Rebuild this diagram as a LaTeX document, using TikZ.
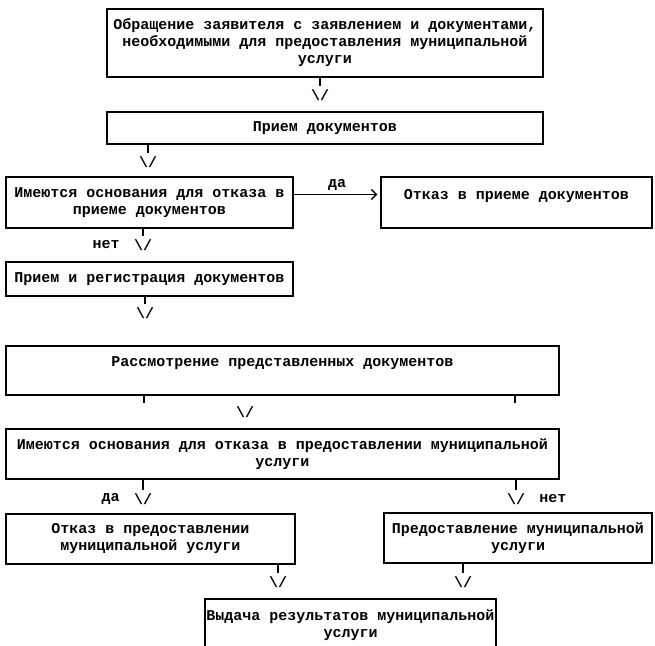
\documentclass[tikz,border=0pt]{standalone}
\usepackage{fontspec}
\setmonofont{Liberation Mono}
\usetikzlibrary{arrows.meta,positioning}
\begin{document}
\begin{tikzpicture}[x=1pt,y=-1pt]
        \tikzset{box/.style={draw,line width=1.4pt,font=\ttfamily\bfseries\fontsize{15}{17}\selectfont,align=center,inner sep=0pt},
            vmark/.style={font=\ttfamily\bfseries\fontsize{15}{17}\selectfont,inner sep=3pt},
            tick/.style={line width=1.4pt}}
        \useasboundingbox (0,0) rectangle (655,645);
        % boxes
        \node[box,minimum width=436pt,minimum height=68pt] (obr) at (325,43)
            {Обращение заявителя с заявлением и документами,\\необходимыми для предоставления муниципальной\\услуги};
        \node[box,minimum width=436pt,minimum height=32pt] (priem) at (325,128) {Прием документов};
        \node[box,minimum width=287pt,minimum height=51pt] (osn) at (149.5,202.5)
            {Имеются основания для отказа в\\приеме документов};
        \node[box,minimum width=271pt,minimum height=51pt] (otkaz) at (516.5,202.5) {Отказ в приеме документов\\\mbox{}};
        \node[box,minimum width=287pt,minimum height=34pt] (reg) at (149.5,279) {Прием и регистрация документов};
        \node[box,minimum width=553pt,minimum height=49pt] (rass) at (282.5,370.5)
            {Рассмотрение представленных документов\\\mbox{}};
        \node[box,minimum width=553pt,minimum height=50pt] (osnb) at (282.5,454)
            {Имеются основания для отказа в предоставлении муниципальной\\услуги};
        \node[box,minimum width=289pt,minimum height=50pt] (otkazb) at (150.5,539)
            {Отказ в предоставлении\\муниципальной услуги};
        \node[box,minimum width=268pt,minimum height=50pt] (predost) at (518,538)
            {Предоставление муниципальной\\услуги};
        \node[box,minimum width=291pt,minimum height=52pt] (vydacha) at (350.5,625)
            {Выдача результатов муниципальной\\услуги};
        % \/ marks
        \node[vmark] (v1) at (320,95) {\textbackslash/};
        \node[vmark] (v2) at (148,162) {\textbackslash/};
        \node[vmark] (v3) at (143,245) {\textbackslash/};
        \node[vmark] (v4) at (145,313) {\textbackslash/};
        \node[vmark] (v5) at (245,412) {\textbackslash/};
        \node[vmark] (v6) at (143,499) {\textbackslash/};
        \node[vmark] (v7) at (516,499) {\textbackslash/};
        \node[vmark] (v8) at (278,582) {\textbackslash/};
        \node[vmark] (v9) at (463,582) {\textbackslash/};
        \node[vmark,left=8pt of v3] (net1) {нет};
        \node[vmark,left=8pt of v6] (da2) {да};
        \node[vmark,right=8pt of v7] (net2) {нет};
        % ticks
        \draw[tick] (v1 |- obr.south) -- (v1.north);
        \draw[tick] (v2 |- priem.south) -- (v2.north);
        \draw[tick] (v3 |- osn.south) -- (v3.north);
        \draw[tick] (v4 |- reg.south) -- (v4.north);
        \draw[tick] (v6 |- osnb.south) -- (v6.north);
        \draw[tick] (v7 |- osnb.south) -- (v7.north);
        \draw[tick] (v8 |- otkazb.south) -- (v8.north);
        \draw[tick] (v9 |- predost.south) -- (v9.north);
        \coordinate (ta) at (144,403);
        \coordinate (tb) at (515,403);
        \foreach \t in {ta,tb}
            \draw[tick] (\t |- rass.south) -- (\t);
        \draw[tick,-{Straight Barb[length=5pt,width=10pt]},shorten >=3pt] ([yshift=8pt]osn.east)
            -- node[vmark,above] (da1) {да} ([yshift=8pt]osn.east -| otkaz.west);
\end{tikzpicture}
\end{document}
